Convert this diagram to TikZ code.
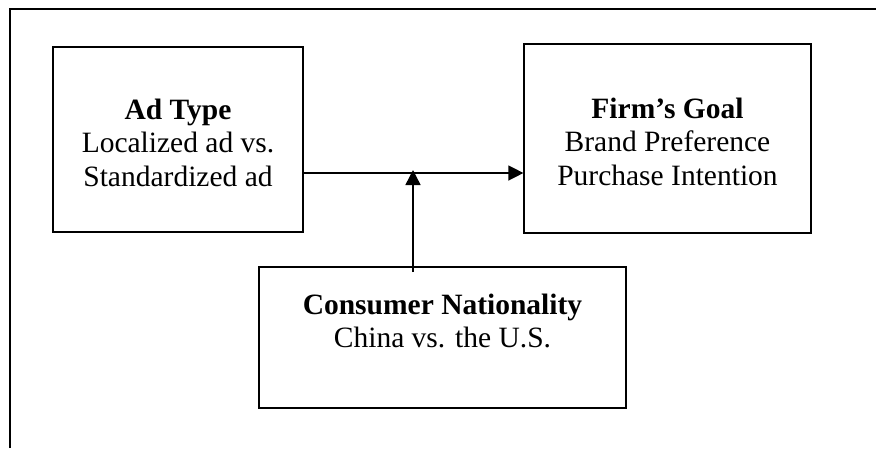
\documentclass[tikz,border=0pt]{standalone}
\usepackage{fontspec}
\setmainfont{Liberation Serif}
\usetikzlibrary{arrows.meta}

\begin{document}
\begin{tikzpicture}[x=1pt, y=-1pt]
\tikzset{
  arrow/.style={
    -{Triangle[length=15pt, width=15pt]}
  },
  line/.style={
    draw,
    line width=1.4pt,
  },
  box/.style={
    draw,
    line width=1.2pt,
    align=center,
    inner sep=0pt,
    font=\fontsize{29.5}{33.5}\selectfont
  },
  frame/.style={
    draw,
    line width=1.2pt
  }
}

\useasboundingbox (0,0) rectangle (876,448);

% Frame
\draw[frame] (10,448) -- (10,9) -- (876,9);

% Boxes
\node (adtype) [box, minimum width=250pt, minimum height=185pt] at (178,139.5)
  {\rule{0pt}{27pt}\textbf{Ad Type}\\Localized ad vs.\\Standardized ad};
\node (goal) [box, minimum width=287pt, minimum height=189pt] at (667.5,138.5)
  {\rule{0pt}{27pt}\textbf{Firm’s Goal}\\Brand Preference\\Purchase Intention};
\node (nationality) [box, minimum width=367pt, minimum height=141pt] at (442.5,337.5)
  {\textbf{Consumer Nationality}\\China vs. the U.S.\\\mbox{}};

% Arrows
\coordinate (mid) at (413,173);
\coordinate (tip) at (413,170);
\coordinate (foot) at (413,272);
\draw[line, arrow] (adtype.east |- mid) to (goal.west |- mid);
\draw[line, arrow] (foot) to (tip);

\end{tikzpicture}
\end{document}
